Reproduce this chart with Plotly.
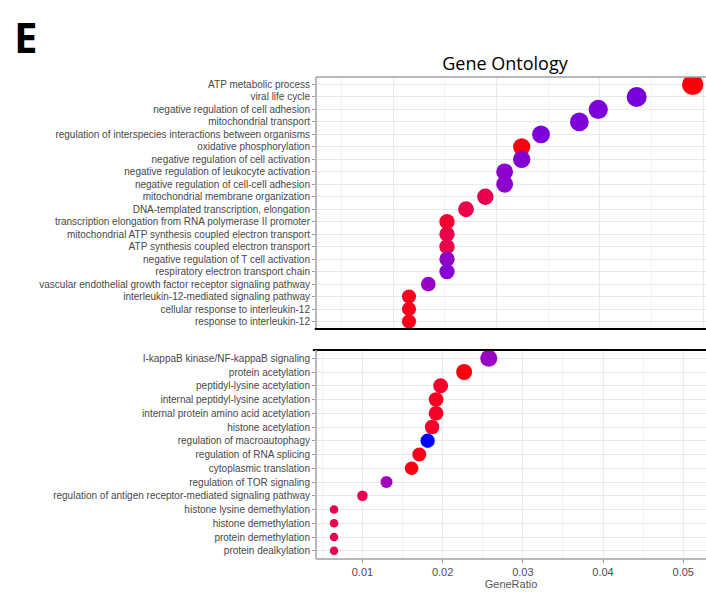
import numpy as np
import plotly.graph_objects as go

# ---------------- data ----------------
top_terms = [
    "ATP metabolic process",
    "viral life cycle",
    "negative regulation of cell adhesion",
    "mitochondrial transport",
    "regulation of interspecies interactions between organisms",
    "oxidative phosphorylation",
    "negative regulation of cell activation",
    "negative regulation of leukocyte activation",
    "negative regulation of cell-cell adhesion",
    "mitochondrial membrane organization",
    "DNA-templated transcription, elongation",
    "transcription elongation from RNA polymerase II promoter",
    "mitochondrial ATP synthesis coupled electron transport",
    "ATP synthesis coupled electron transport",
    "negative regulation of T cell activation",
    "respiratory electron transport chain",
    "vascular endothelial growth factor receptor signaling pathway",
    "interleukin-12-mediated signaling pathway",
    "cellular response to interleukin-12",
    "response to interleukin-12",
]
top_ratio = [0.04898, 0.04356, 0.03984, 0.03801, 0.03430, 0.03243, 0.03243,
             0.03078, 0.03078, 0.02891, 0.02704, 0.02520, 0.02520, 0.02520,
             0.02520, 0.02520, 0.02339, 0.02152, 0.02152, 0.02152]
top_count = [27, 24, 22, 21, 19, 18, 18, 17, 17, 16, 15, 14, 14, 14, 14, 14,
             13, 12, 12, 12]
top_padj = [0.001, 0.043, 0.0425, 0.042, 0.0425, 0.0015, 0.0415, 0.040, 0.040,
            0.0125, 0.011, 0.006, 0.011, 0.011, 0.039, 0.041, 0.038,
            0.0025, 0.0025, 0.0025]

bot_terms = [
    "I-kappaB kinase/NF-kappaB signaling",
    "protein acetylation",
    "peptidyl-lysine acetylation",
    "internal peptidyl-lysine acetylation",
    "internal protein amino acid acetylation",
    "histone acetylation",
    "regulation of macroautophagy",
    "regulation of RNA splicing",
    "cytoplasmic translation",
    "regulation of TOR signaling",
    "regulation of antigen receptor-mediated signaling pathway",
    "histone lysine demethylation",
    "histone demethylation",
    "protein demethylation",
    "protein dealkylation",
]
bot_ratio = [0.02575, 0.02268, 0.01975, 0.01918, 0.01918, 0.01868, 0.01813,
             0.01709, 0.01613, 0.01300, 0.01000, 0.00646, 0.00646, 0.00646,
             0.00646]
bot_count = [52, 46, 40, 39, 39, 38, 37, 35, 33, 26, 20, 13, 13, 13, 13]
bot_padj = [0.0375, 0.0015, 0.005, 0.004, 0.004, 0.005, 0.05, 0.0025, 0.0015,
            0.036, 0.0125, 0.0115, 0.0115, 0.0115, 0.0115]

x_ticks = [0.01, 0.02, 0.03, 0.04, 0.05]


# ------------- colour scale (ggplot-like Lab gradient red -> blue) -------------
def _srgb_to_lab(rgb):
    c = np.array(rgb, dtype=float) / 255.0
    lin = np.where(c <= 0.04045, c / 12.92, ((c + 0.055) / 1.055) ** 2.4)
    M = np.array([[0.4124, 0.3576, 0.1805],
                  [0.2126, 0.7152, 0.0722],
                  [0.0193, 0.1192, 0.9505]])
    xyz = M @ lin
    xyz = xyz / np.array([0.95047, 1.0, 1.08883])
    f = np.where(xyz > 216 / 24389, np.cbrt(xyz), (24389 / 27 * xyz + 16) / 116)
    return np.array([116 * f[1] - 16, 500 * (f[0] - f[1]), 200 * (f[1] - f[2])])


def _lab_to_srgb(lab):
    L, a, b = lab
    fy = (L + 16) / 116
    fx = fy + a / 500
    fz = fy - b / 200
    f = np.array([fx, fy, fz])
    xyz = np.where(f ** 3 > 216 / 24389, f ** 3, (116 * f - 16) / (24389 / 27))
    xyz = xyz * np.array([0.95047, 1.0, 1.08883])
    Mi = np.array([[3.2406, -1.5372, -0.4986],
                   [-0.9689, 1.8758, 0.0415],
                   [0.0557, -0.2040, 1.0570]])
    lin = np.clip(Mi @ xyz, 0, 1)
    c = np.where(lin <= 0.0031308, 12.92 * lin, 1.055 * lin ** (1 / 2.4) - 0.055)
    c = np.clip(np.round(c * 255), 0, 255).astype(int)
    return "rgb(%d,%d,%d)" % tuple(c)


lab_lo = _srgb_to_lab((255, 0, 0))
lab_hi = _srgb_to_lab((0, 0, 255))
colorscale = [[t, _lab_to_srgb(lab_lo + (lab_hi - lab_lo) * t)]
              for t in np.linspace(0, 1, 21)]

# ---------------- figure ----------------
W, H = 706, 604
ML, MR, MT, MB = 316, 0, 77, 45
ph = H - MT - MB
top_dom = [(559 - 329) / ph, 1.0]
bot_dom = [0.0, (559 - 350) / ph]

fig = go.Figure()

fig.add_trace(go.Scatter(
    x=top_ratio, y=top_terms, mode="markers",
    marker=dict(size=top_count, sizemode="area", sizeref=0.12,
                color=top_padj, cmin=0, cmax=0.05, colorscale=colorscale,
                line=dict(width=0), opacity=1),
    xaxis="x", yaxis="y", showlegend=False, hoverinfo="x+y"))

fig.add_trace(go.Scatter(
    x=bot_ratio, y=bot_terms, mode="markers",
    marker=dict(size=bot_count, sizemode="area", sizeref=0.36,
                color=bot_padj, cmin=0, cmax=0.05, colorscale=colorscale,
                line=dict(width=0), opacity=1),
    xaxis="x2", yaxis="y2", showlegend=False, hoverinfo="x+y"))

tick_font = dict(family="Liberation Sans, Arial, sans-serif", size=10, color="#474747")
grid_major = "#e9e9e9"
grid_minor = "#f3f3f3"

fig.update_layout(
    width=W, height=H,
    margin=dict(l=ML, r=MR, t=MT, b=MB),
    paper_bgcolor="white", plot_bgcolor="white",
    title=dict(text="Gene Ontology", x=505 / W, xanchor="center",
               y=1 - 64 / H, yanchor="middle",
               font=dict(family="Open Sans, Noto Sans, sans-serif", size=18, color="black")),
    xaxis=dict(domain=[0, 1], anchor="y", range=[0.01252, 0.05027],
               tickmode="linear", tick0=0, dtick=0.01,
               showticklabels=False, ticks="", zeroline=False,
               showgrid=True, gridcolor=grid_major, gridwidth=1,
               minor=dict(showgrid=True, dtick=0.005, tick0=0, gridcolor=grid_minor, gridwidth=1),
               showline=False),
    yaxis=dict(domain=top_dom, anchor="x", type="category",
               categoryorder="array", categoryarray=list(reversed(top_terms)),
               range=[-0.6, len(top_terms) - 0.4],
               tickfont=tick_font, ticks="outside", ticklen=3, tickcolor="#9a9a9a",
               tickwidth=1, showgrid=True, gridcolor=grid_major, gridwidth=1,
               zeroline=False, showline=False),
    xaxis2=dict(domain=[0, 1], anchor="y2", range=[0.00421, 0.05284],
                tickmode="array", tickvals=x_ticks, ticktext=[str(v) for v in x_ticks],
                tickfont=dict(family="Liberation Sans, Arial, sans-serif", size=11, color="#4d4d4d"),
                ticks="outside", ticklen=3, tickcolor="#9a9a9a",
                showgrid=True, gridcolor=grid_major, gridwidth=1,
                minor=dict(showgrid=True, dtick=0.005, tick0=0, gridcolor=grid_minor, gridwidth=1),
                zeroline=False, showline=False,
                title=dict(text="GeneRatio", standoff=2,
                           font=dict(family="Liberation Sans, Arial, sans-serif", size=11, color="#555555"))),
    yaxis2=dict(domain=bot_dom, anchor="x2", type="category",
                categoryorder="array", categoryarray=list(reversed(bot_terms)),
                range=[-0.6, len(bot_terms) - 0.4],
                tickfont=tick_font, ticks="outside", ticklen=3, tickcolor="#9a9a9a",
                tickwidth=1, showgrid=True, gridcolor=grid_major, gridwidth=1,
                zeroline=False, showline=False),
)

border = "#a0a0a0"
shapes = [
    # top panel: grey top + left, black bottom
    dict(type="line", xref="x domain", yref="y domain", x0=0, x1=1, y0=1, y1=1,
         line=dict(color=border, width=1.5)),
    dict(type="line", xref="x domain", yref="y domain", x0=0, x1=0, y0=0, y1=1,
         line=dict(color=border, width=1.5)),
    dict(type="line", xref="paper", yref="y domain", x0=-0.003, x1=1, y0=0, y1=0,
         line=dict(color="black", width=2)),
    # bottom panel: black top, grey left + bottom
    dict(type="line", xref="paper", yref="y2 domain", x0=-0.008, x1=1, y0=1, y1=1,
         line=dict(color="black", width=2)),
    dict(type="line", xref="x2 domain", yref="y2 domain", x0=0, x1=0, y0=0, y1=1,
         line=dict(color=border, width=1.5)),
    dict(type="line", xref="x2 domain", yref="y2 domain", x0=0, x1=1, y0=0, y1=0,
         line=dict(color=border, width=1.5)),
]
fig.update_layout(shapes=shapes)

fig.add_annotation(text="<b>E</b>", xref="paper", yref="paper",
                   x=(12 - ML) / (W - ML - MR), xanchor="left",
                   y=(H - MB - 36) / ph, yanchor="middle",
                   showarrow=False,
                   font=dict(family="Open Sans, Liberation Sans, sans-serif", size=42, color="black"))

fig.write_html("out.html")
